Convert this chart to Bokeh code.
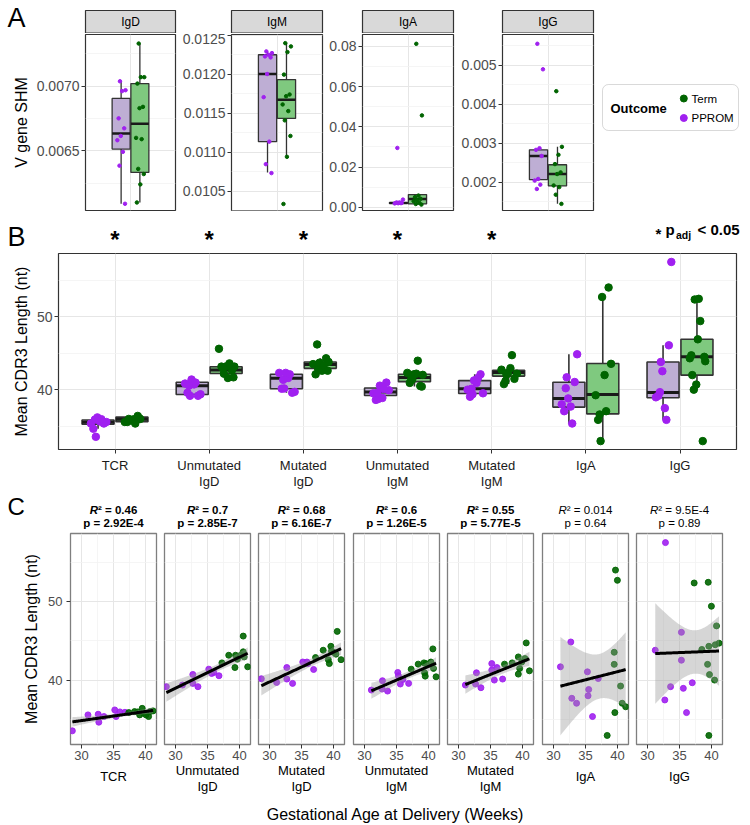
import numpy as np
from bokeh.plotting import figure
from bokeh.models import (ColumnDataSource, Range1d, FixedTicker, Grid, Label,
                          BoxAnnotation, PrintfTickFormatter)
from bokeh.layouts import row, column
from bokeh.embed import file_html
from bokeh.resources import INLINE

FONT = "Liberation Sans"
PURPLE = "#A020F0"
GREEN = "#006400"
FILL_PPROM = "#BEAED4"
FILL_TERM = "#7FC97F"
GRID_MAJOR = "#E6E6E6"
GRID_MINOR = "#F2F2F2"
TICK_COLOR = "#4D4D4D"
BOX_LINE = "#333333"

# ---------------- Panel A data (V gene SHM) ----------------
A_ISOTYPES = ["IgD", "IgM", "IgA", "IgG"]
A_PPROM_SHM = [
    [0.007038, 0.006969, 0.006962, 0.006751, 0.006674, 0.006615, 0.006582, 0.006492, 0.006385, 0.006090],
    [0.012296, 0.012274, 0.012253, 0.012232, 0.012219, 0.012006, 0.011709, 0.011138, 0.010849, 0.010734],
    [0.0295, 0.0038, 0.0024, 0.0022, 0.0021, 0.0020, 0.0019, 0.0021, 0.0023],
    [0.005552, 0.004898, 0.002875, 0.002833, 0.002676, 0.002086, 0.002045, 0.001941, 0.001830],
]
A_TERM_SHM = [
    [0.00733, 0.00707, 0.00707, 0.00702, 0.00684, 0.00683, 0.00660, 0.00659, 0.00636, 0.00632, 0.00624, 0.00610],
    [0.012402, 0.01236, 0.012287, 0.011998, 0.011743, 0.011721, 0.011615, 0.01153, 0.011411, 0.011211, 0.010943, 0.010338],
    [0.0813, 0.0457, 0.0058, 0.0050, 0.0042, 0.0035, 0.0030, 0.0022, 0.0016, 0.0013],
    [0.004337, 0.00291, 0.002706, 0.002468, 0.002255, 0.002213, 0.00192, 0.001878, 0.001683, 0.001448],
]
A_PPROM_LO = [0.00609, 0.010743, 0.0019, 0.00205]
A_PPROM_Q1 = [0.006513, 0.011138, 0.0019, 0.002069]
A_PPROM_MED = [0.006633, 0.012006, 0.00214, 0.002672]
A_PPROM_Q3 = [0.006905, 0.012253, 0.0023, 0.002833]
A_PPROM_HI = [0.007038, 0.012296, 0.0024, 0.002875]
A_TERM_LO = [0.0061, 0.010943, 0.0013, 0.001448]
A_TERM_Q1 = [0.006333, 0.011436, 0.00165, 0.001907]
A_TERM_MED = [0.00671, 0.011674, 0.00412, 0.002213]
A_TERM_Q3 = [0.00702, 0.011934, 0.00627, 0.002451]
A_TERM_HI = [0.00733, 0.012394, 0.0065, 0.00291]
A_YLIM = [(0.006038, 0.0074), (0.010254, 0.012513), (-0.00163, 0.08594), (0.001278, 0.00579)]
A_YTICKS = [[0.0065, 0.0070], [0.0105, 0.0110, 0.0115, 0.0120, 0.0125],
            [0.0, 0.02, 0.04, 0.06, 0.08], [0.002, 0.003, 0.004, 0.005]]
A_YMINOR = [[0.00625, 0.00675, 0.00725], [0.01025, 0.01075, 0.01125, 0.01175, 0.01225],
            [0.01, 0.03, 0.05, 0.07], [0.0015, 0.0025, 0.0035, 0.0045, 0.0055]]
A_FMT = ["%.4f", "%.4f", "%.2f", "%.3f"]

# ---------------- Panel B / C data (mean CDR3 length) ----------------
CATEGORIES = ["TCR", "Unmutated\nIgD", "Mutated\nIgD", "Unmutated\nIgM", "Mutated\nIgM", "IgA", "IgG"]
SIGNIFICANT = [True, True, True, True, True, False, False]

PPROM_AGE = [
    [28.55, 31.0, 32.6, 32.7, 33.5, 35.2, 35.4, 36.0, 36.8],
    [28.55, 31.08, 32.7, 32.7, 33.5, 35.2, 35.65, 36.0, 36.8],
    [28.7, 31.1, 32.7, 32.7, 33.6, 35.2, 35.85, 36.0, 36.9],
    [31.06, 32.8, 32.75, 33.6, 35.2, 35.3, 35.6, 36.0, 36.9],
    [31.06, 32.66, 32.8, 33.5, 35.2, 35.2, 35.6, 36.0, 36.9],
    [31.07, 32.7, 32.85, 33.6, 35.3, 35.5, 35.4, 36.1, 37.0],
    [31.2, 32.8, 32.7, 33.6, 35.3, 35.3, 35.6, 36.1, 37.0],
]
PPROM_CDR3 = [
    [33.54, 35.57, 35.65, 34.64, 35.36, 36.2, 35.36, 35.95, 35.9],
    [39.16, 39.37, 40.72, 39.58, 39.16, 41.39, 40.84, 40.97, 40.55],
    [40.17, 39.7, 41.6, 40.13, 39.58, 42.3, 42.3, 42.1, 41.35],
    [38.73, 39.92, 38.86, 38.6, 40.97, 40.55, 39.5, 40.08, 39.58],
    [39.37, 39.5, 40.93, 39.03, 42.1, 41.27, 40.0, 41.6, 40.13],
    [41.69, 44.85, 37.68, 37.05, 41.05, 38.8, 38.0, 35.36, 40.2],
    [43.8, 57.5, 37.47, 39.16, 46.08, 42.53, 38.95, 35.86, 39.66],
]
TERM_AGE = [
    [37.4, 38.3, 38.8, 39.1, 39.5, 39.7, 40.1, 40.5, 40.75, 41.2],
    [37.26, 38.33, 39.3, 39.4, 39.68, 40.2, 40.6, 40.6, 40.75, 41.3],
    [37.2, 38.4, 39.2, 39.36, 39.6, 39.7, 40.1, 40.4, 40.6, 41.2],
    [37.3, 38.4, 39.3, 39.4, 39.5, 39.6, 40.4, 40.7, 40.8, 41.2],
    [37.2, 38.4, 39.36, 39.36, 39.57, 39.9, 40.4, 40.6, 41.1],
    [38.4, 39.5, 39.5, 39.6, 39.7, 40.0, 40.5, 40.75, 41.3],
    [37.3, 38.5, 39.5, 39.4, 39.6, 39.7, 39.6, 40.0, 40.5, 40.6, 40.8, 41.2],
]
TERM_CDR3 = [
    [35.86, 35.99, 35.95, 35.57, 36.4, 35.78, 35.57, 35.36, 35.99, 36.08],
    [42.19, 43.16, 41.6, 43.16, 42.66, 43.16, 45.6, 43.6, 42.95, 41.69],
    [42.87, 43.8, 42.6, 42.1, 44.3, 43.7, 43.5, 43.3, 46.2, 42.6],
    [41.39, 42.03, 42.19, 40.93, 40.5, 42.1, 42.3, 43.97, 41.48, 40.42],
    [42.03, 42.19, 42.95, 40.76, 41.48, 42.3, 42.74, 44.73, 41.18],
    [32.95, 43.54, 42.0, 35.86, 54.0, 52.7, 39.24, 37.05, 36.6],
    [52.36, 43.9, 52.45, 42.0, 32.95, 40.7, 44.3, 49.4, 40.0, 44.5, 46.9, 44.7],
]
# Panel B box statistics
B_PPROM_LO = [34.64, 39.16, 39.58, 38.6, 39.03, 35.36, 35.86]
B_PPROM_Q1 = [35.27, 39.34, 40.13, 39.2, 39.47, 37.61, 38.9]
B_PPROM_MED = [35.53, 40.53, 41.55, 39.69, 40.13, 38.8, 39.6]
B_PPROM_Q3 = [35.84, 41.02, 42.12, 40.22, 41.24, 41.02, 43.8]
B_PPROM_HI = [36.2, 41.39, 42.3, 40.97, 42.1, 44.87, 46.08]
B_TERM_LO = [35.36, 41.5, 42.1, 40.42, 40.76, 32.95, 40.0]
B_TERM_Q1 = [35.62, 42.21, 42.92, 41.1, 41.86, 36.68, 41.99]
B_TERM_MED = [35.93, 42.7, 43.45, 41.68, 42.35, 39.34, 44.5]
B_TERM_Q3 = [36.24, 43.14, 43.8, 42.12, 42.65, 43.58, 46.9]
B_TERM_HI = [36.4, 43.6, 44.3, 42.3, 42.95, 52.7, 52.4]

C_R2 = ["0.46", "0.7", "0.68", "0.6", "0.55", "0.014", "9.5E-4"]
C_P = ["2.92E-4", "2.85E-7", "6.16E-7", "1.26E-5", "5.77E-5", "0.64", "0.89"]
C_BOLD = [True, True, True, True, True, False, False]

CDR3_LIM = (31.8, 58.66)
AGE_LIM = (28.26, 41.74)

TOTAL_W = 750


def jitter(n, center, half):
    k = np.arange(n)
    return center + half * (2.0 * ((k * 0.6180339887 + 0.37) % 1.0) - 1.0)


def style_axis(ax, tick_size, label_size="16px"):
    ax.axis_line_color = None
    ax.major_tick_line_color = "#333333"
    ax.major_tick_in = 0
    ax.major_tick_out = 4
    ax.minor_tick_line_color = None
    ax.major_label_text_font = FONT
    ax.major_label_text_font_size = tick_size
    ax.major_label_text_color = TICK_COLOR
    ax.major_label_standoff = 2
    ax.axis_label_text_font = FONT
    ax.axis_label_text_font_size = label_size
    ax.axis_label_text_font_style = "normal"
    ax.axis_label_text_color = "black"
    ax.axis_label_standoff = 4


def style_grid(g):
    g.grid_line_color = GRID_MAJOR
    g.grid_line_width = 1
    g.minor_grid_line_color = GRID_MINOR
    g.minor_grid_line_width = 0.8


def set_grid(p, dim, ticks, minor):
    grids = p.xgrid if dim == 0 else p.ygrid
    tk = FixedTicker(ticks=ticks, minor_ticks=minor)
    if len(grids) == 0:
        g = Grid(dimension=dim, ticker=tk)
        p.add_layout(g)
        style_grid(g)
    else:
        for g in grids:
            g.ticker = tk
            style_grid(g)


def blank_fig(width, height, xr, yr, top=0, bottom=0):
    f = figure(width=width, height=height, x_range=Range1d(*xr), y_range=Range1d(*yr),
               x_axis_location=None, y_axis_location=None, toolbar_location=None,
               output_backend="svg", min_border_left=0, min_border_right=0,
               min_border_top=top, min_border_bottom=bottom)
    f.outline_line_color = None
    for g in f.grid:
        g.visible = False
    return f


def lab(fig, x, y, text, size, style="normal", align="left", baseline="middle", xu="data", yu="data"):
    fig.add_layout(Label(x=x, y=y, x_units=xu, y_units=yu, text=text, text_font=FONT,
                         text_font_size=size, text_font_style=style, text_align=align,
                         text_baseline=baseline, text_color="black"))


def draw_boxes(p, xs, w, lo, q1, med, q3, hi, fills, lw, mlw):
    src = ColumnDataSource(dict(x=xs, xl=[x - w / 2 for x in xs], xr=[x + w / 2 for x in xs],
                                lo=lo, q1=q1, med=med, q3=q3, hi=hi, fill=fills))
    p.segment(x0="x", y0="q3", x1="x", y1="hi", source=src, line_color=BOX_LINE, line_width=lw)
    p.segment(x0="x", y0="lo", x1="x", y1="q1", source=src, line_color=BOX_LINE, line_width=lw)
    p.vbar(x="x", width=w, bottom="q1", top="q3", source=src, fill_color="fill",
           line_color=BOX_LINE, line_width=lw)
    p.segment(x0="xl", y0="med", x1="xr", y1="med", source=src, line_color="#1A1A1A", line_width=mlw)


# ================= Row A =================
A_GEOM = [(85, 90, 3), (53, 91, 3), (37, 91, 3), (46, 91, 3)]   # left border, frame, right border
A_HEADER_H = 33
A_MAIN_H = 185
A_TOP, A_BOT = 1, 8
A_DODGE = 0.125
A_BOXW = 0.24

a_frame_left = []
acc = 0
for L, FW, R in A_GEOM:
    a_frame_left.append(acc + L)
    acc += L + FW + R
LEG_W = TOTAL_W - acc

# header with facet strips and the panel letter
hA = blank_fig(TOTAL_W, A_HEADER_H, (0, TOTAL_W), (0, A_HEADER_H))
hA.quad(left=a_frame_left, right=[l + g[1] for l, g in zip(a_frame_left, A_GEOM)],
        bottom=0.5, top=A_HEADER_H - 10, fill_color="#D9D9D9", line_color=BOX_LINE, line_width=1.2)
for i, l in enumerate(a_frame_left):
    lab(hA, l + A_GEOM[i][1] / 2, (A_HEADER_H - 10) / 2, A_ISOTYPES[i], "12px", align="center")
lab(hA, 7, 16, "A", "27px")


def make_panel_a(i):
    L, FW, R = A_GEOM[i]
    W = L + FW + R
    lo, hi = A_YLIM[i]
    p = figure(width=W, height=A_MAIN_H, x_range=Range1d(0.4, 1.6), y_range=Range1d(lo, hi),
               x_axis_location=None, toolbar_location=None, output_backend="svg",
               min_border_left=L, min_border_right=R, min_border_top=A_TOP, min_border_bottom=A_BOT)
    p.outline_line_color = BOX_LINE
    p.outline_line_width = 1.2
    p.yaxis.ticker = FixedTicker(ticks=A_YTICKS[i], minor_ticks=A_YMINOR[i])
    p.yaxis.formatter = PrintfTickFormatter(format=A_FMT[i])
    style_axis(p.yaxis[0], "14px")
    if i == 0:
        p.yaxis.axis_label = "V gene SHM"
    set_grid(p, 1, A_YTICKS[i], A_YMINOR[i])
    set_grid(p, 0, [1.0], [])
    xs = [1 - A_DODGE, 1 + A_DODGE]
    draw_boxes(p, xs, A_BOXW,
               [A_PPROM_LO[i], A_TERM_LO[i]], [A_PPROM_Q1[i], A_TERM_Q1[i]],
               [A_PPROM_MED[i], A_TERM_MED[i]], [A_PPROM_Q3[i], A_TERM_Q3[i]],
               [A_PPROM_HI[i], A_TERM_HI[i]], [FILL_PPROM, FILL_TERM], 1.3, 2.5)
    for vals, cx, col in [(A_PPROM_SHM[i], xs[0], PURPLE), (A_TERM_SHM[i], xs[1], GREEN)]:
        p.scatter(jitter(len(vals), cx, 0.06), vals, size=3.5, color=col)
    return p


# legend, in page coordinates (frame spans page y 34..210)
leg_x0 = acc
leg = blank_fig(LEG_W, A_MAIN_H, (leg_x0, TOTAL_W),
                (A_HEADER_H + A_MAIN_H - A_BOT, A_HEADER_H + A_TOP), top=A_TOP, bottom=A_BOT)
leg.add_layout(BoxAnnotation(left=602, right=738, top=84, bottom=130, fill_color="white",
                             fill_alpha=1, line_color="#808080", line_width=1, border_radius=6,
                             level="underlay"))
lab(leg, 610, 107.5, "Outcome", "13px", style="bold")
LEGEND_LABELS = ["Term", "PPROM"]
LEGEND_COLORS = [GREEN, PURPLE]
LEGEND_Y = [98, 117.5]
leg.scatter(x=[683.3, 683.3], y=LEGEND_Y, color=LEGEND_COLORS, size=7)
for t, yy in zip(LEGEND_LABELS, LEGEND_Y):
    lab(leg, 691, yy, t, "11.5px")

rowA = column(hA, row(*[make_panel_a(i) for i in range(4)], leg, spacing=0), spacing=0)

# ================= Row B =================
B_L, B_R = 58, 14
B_FRAME_H = 202
B_HEADER_H = 34
B_DODGE = 0.18
B_BOXW = 0.34
b_scale = (TOTAL_W - B_L - B_R) / 7.2

hB = blank_fig(TOTAL_W, B_HEADER_H, (0.4 - B_L / b_scale, 0.4 + (TOTAL_W - B_L) / b_scale),
               (0, B_HEADER_H))
for k in range(7):
    if SIGNIFICANT[k]:
        lab(hB, k + 1, 13, "*", "24px", style="bold", align="center", yu="screen")
lab(hB, 7, 16, "B", "27px", xu="screen", yu="screen")
for txt, xx, yy, sz in [("*", 655, 232.6, "15px"), ("p", 665, 229, "15px"),
                        ("adj", 675.5, 234, "10.5px"), ("< 0.05", 697, 229, "15px")]:
    lab(hB, xx, 252 - yy, txt, sz, style="bold", xu="screen", yu="screen")

pB = figure(width=TOTAL_W, height=B_FRAME_H + 38, x_range=Range1d(0.4, 7.6), y_range=Range1d(*CDR3_LIM),
            toolbar_location=None, output_backend="svg", min_border_left=B_L, min_border_right=B_R,
            min_border_top=1, min_border_bottom=37)
pB.outline_line_color = BOX_LINE
pB.outline_line_width = 1.2
pB.yaxis.ticker = FixedTicker(ticks=[40, 50], minor_ticks=[35, 45, 55])
pB.xaxis.ticker = FixedTicker(ticks=list(range(1, 8)))
pB.xaxis.major_label_overrides = {i + 1: c for i, c in enumerate(CATEGORIES)}
style_axis(pB.yaxis[0], "14px")
style_axis(pB.xaxis[0], "13px")
pB.xaxis.major_label_standoff = 4
pB.xaxis.major_label_text_color = "#1A1A1A"
pB.xaxis.major_label_text_line_height = 1.1
pB.yaxis.axis_label = "Mean CDR3 Length (nt)"
set_grid(pB, 1, [40, 50], [35, 45, 55])
set_grid(pB, 0, list(range(1, 8)), [])
cats = np.arange(1, 8)
draw_boxes(pB, list(cats - B_DODGE), B_BOXW, B_PPROM_LO, B_PPROM_Q1, B_PPROM_MED, B_PPROM_Q3,
           B_PPROM_HI, [FILL_PPROM] * 7, 1.6, 3)
draw_boxes(pB, list(cats + B_DODGE), B_BOXW, B_TERM_LO, B_TERM_Q1, B_TERM_MED, B_TERM_Q3,
           B_TERM_HI, [FILL_TERM] * 7, 1.6, 3)
for k in range(7):
    pB.scatter(jitter(len(PPROM_CDR3[k]), cats[k] - B_DODGE, 0.09), PPROM_CDR3[k], size=7.5, color=PURPLE)
    pB.scatter(jitter(len(TERM_CDR3[k]), cats[k] + B_DODGE, 0.09), TERM_CDR3[k], size=7.5, color=GREEN)

# ================= Row C =================
C_GEOM = [(160, 70, 4), (94, 4, 4), (95, 4, 5), (94, 4, 4), (95, 4, 5), (94, 4, 4), (118, 4, 28)]
C_FW = 86
C_FRAME_H = 212
C_HEADER_H = 40
C_BOTTOM = 52
BOLD_W = {"R": 0.722, "\u00b2": 0.333, " ": 0.278, "=": 0.584, ".": 0.278, "-": 0.333, "E": 0.667, "p": 0.611}
REG_W = {"R": 0.722, "\u00b2": 0.333, " ": 0.278, "=": 0.584, ".": 0.278, "-": 0.333, "E": 0.667, "p": 0.556}


def text_w(s, bold, size):
    tab = BOLD_W if bold else REG_W
    return sum(tab.get(ch, 0.556) for ch in s) * size


def t975(df):
    z = 1.959964
    return (z + (z ** 3 + z) / (4 * df) + (5 * z ** 5 + 16 * z ** 3 + 3 * z) / (96 * df ** 2)
            + (3 * z ** 7 + 19 * z ** 5 + 17 * z ** 3 - 15 * z) / (384 * df ** 3))


def fit_line(x, y):
    x = np.asarray(x, float)
    y = np.asarray(y, float)
    n = len(x)
    b, a = np.polyfit(x, y, 1)
    xs = np.linspace(x.min(), x.max(), 80)
    yh = a + b * xs
    s = np.sqrt(np.sum((y - (a + b * x)) ** 2) / (n - 2))
    sxx = np.sum((x - x.mean()) ** 2)
    se = s * np.sqrt(1.0 / n + (xs - x.mean()) ** 2 / sxx)
    t = t975(n - 2)
    return xs, yh, yh - t * se, yh + t * se


c_centers = []
acc = 0
for W, L, R in C_GEOM:
    c_centers.append(acc + L + C_FW / 2)
    acc += W

hC = blank_fig(TOTAL_W, C_HEADER_H, (0, TOTAL_W), (0, C_HEADER_H))
lab(hC, 7, 26, "C", "24px")
SZ = 11.5
for k in range(7):
    bold = C_BOLD[k]
    rest = "\u00b2 = " + C_R2[k]
    wR = 0.722 * SZ
    x0 = c_centers[k] - (wR + text_w(rest, bold, SZ)) / 2 + wR
    lab(hC, x0, 23, "R", f"{SZ}px", style="bold italic" if bold else "italic", align="right")
    lab(hC, x0, 23, rest, f"{SZ}px", style="bold" if bold else "normal", align="left")
    lab(hC, c_centers[k], 9.3, "p = " + C_P[k], f"{SZ}px", style="bold" if bold else "normal",
        align="center")


def make_facet(k):
    W, L, R = C_GEOM[k]
    first = k == 0
    p = figure(width=W, height=C_FRAME_H + C_BOTTOM + 1, x_range=Range1d(*AGE_LIM), y_range=Range1d(*CDR3_LIM),
               y_axis_location="left" if first else None, toolbar_location=None,
               output_backend="svg", min_border_left=L, min_border_right=R,
               min_border_top=1, min_border_bottom=C_BOTTOM)
    p.outline_line_color = "#7F7F7F"
    p.outline_line_width = 1.3
    p.xaxis.ticker = FixedTicker(ticks=[30, 35, 40], minor_ticks=[32.5, 37.5])
    style_axis(p.xaxis[0], "13px", "13px")
    p.xaxis.axis_label = CATEGORIES[k]
    p.xaxis.axis_label_text_line_height = 1.1
    p.xaxis.axis_label_standoff = 0 if "\n" in CATEGORIES[k] else 6
    if first:
        p.yaxis.ticker = FixedTicker(ticks=[40, 50], minor_ticks=[35, 45, 55])
        style_axis(p.yaxis[0], "13px")
        p.yaxis.major_label_standoff = 4
        p.yaxis.axis_label_standoff = 5
        p.yaxis.axis_label = "Mean CDR3 Length (nt)"
    set_grid(p, 1, [40, 50], [35, 45, 55])
    set_grid(p, 0, [30, 35, 40], [32.5, 37.5])
    p.scatter(PPROM_AGE[k], PPROM_CDR3[k], size=6, color=PURPLE, alpha=0.9)
    p.scatter(TERM_AGE[k], TERM_CDR3[k], size=6, color=GREEN, alpha=0.9)
    xs, yh, lo, hi = fit_line(PPROM_AGE[k] + TERM_AGE[k], PPROM_CDR3[k] + TERM_CDR3[k])
    p.varea(x=xs, y1=lo, y2=hi, fill_color="#999999", fill_alpha=0.4)
    p.line(xs, yh, line_color="black", line_width=3)
    return p


rowC = row(*[make_facet(k) for k in range(7)], spacing=0)

XT_H = 28
xt = blank_fig(TOTAL_W, XT_H, (0, TOTAL_W), (0, XT_H))
lab(xt, 395, 11, "Gestational Age at Delivery (Weeks)", "16px", align="center")

layout = column(rowA, row(hB), row(pB), row(hC), rowC, row(xt), spacing=0)
open("out.html", "w").write(file_html(layout, INLINE))
